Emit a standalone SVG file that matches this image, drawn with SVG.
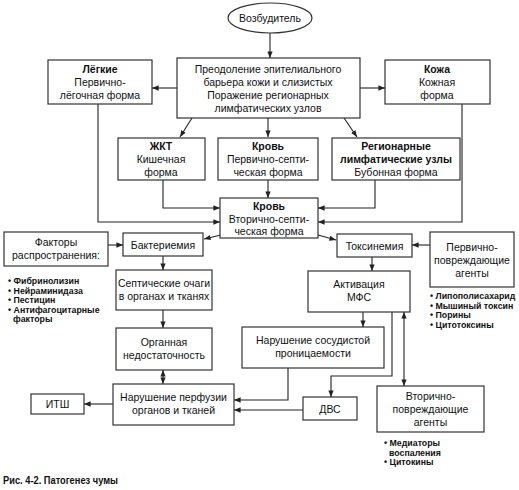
<svg xmlns="http://www.w3.org/2000/svg" width="519" height="490" viewBox="0 0 519 490">
<style>
.bx{fill:#fff;stroke:#333;stroke-width:1.2}
.t{font-family:"Liberation Sans",Arial,sans-serif;font-size:10.5px;text-anchor:middle;fill:#111}
.b{font-weight:bold}
.li{font-family:"Liberation Sans",Arial,sans-serif;font-size:8.8px;font-weight:bold;fill:#111}
.ln{fill:none;stroke:#222;stroke-width:1.1}
.cap{font-family:"Liberation Sans",Arial,sans-serif;font-size:10px;font-weight:900;fill:#111}
</style>
<defs>
<marker id="ah" viewBox="0 0 10 10" refX="10" refY="5" markerWidth="6" markerHeight="6" orient="auto-start-reverse"><path d="M0,1 L10,5 L0,9 z" fill="#222"/></marker>
</defs>
<rect width="519" height="490" fill="#fff"/>
<g id="connectors">
<line class="ln" x1="270" y1="33" x2="270" y2="58" marker-end="url(#ah)"/>
<line class="ln" x1="177" y1="88" x2="152" y2="88" marker-end="url(#ah)"/>
<line class="ln" x1="360" y1="88" x2="385" y2="88" marker-end="url(#ah)"/>
<line class="ln" x1="192" y1="118" x2="180" y2="137" marker-end="url(#ah)"/>
<line class="ln" x1="268" y1="118" x2="268" y2="137" marker-end="url(#ah)"/>
<line class="ln" x1="344" y1="118" x2="357" y2="137" marker-end="url(#ah)"/>
<line class="ln" x1="268" y1="180" x2="268" y2="198" marker-end="url(#ah)"/>
<polyline class="ln" points="163,180 163,208 220,208" marker-end="url(#ah)"/>
<polyline class="ln" points="98,104 98,222 220,222" marker-end="url(#ah)"/>
<polyline class="ln" points="375,180 375,208 318,208" marker-end="url(#ah)"/>
<polyline class="ln" points="462,104 462,222 318,222" marker-end="url(#ah)"/>
<line class="ln" x1="221" y1="235" x2="204" y2="239" marker-end="url(#ah)"/>
<line class="ln" x1="318" y1="235" x2="336" y2="240" marker-end="url(#ah)"/>
<line class="ln" x1="108" y1="245" x2="123" y2="245" marker-end="url(#ah)"/>
<line class="ln" x1="430" y1="245" x2="412" y2="245" marker-end="url(#ah)"/>
<line class="ln" x1="163" y1="256" x2="163" y2="270" marker-end="url(#ah)"/>
<line class="ln" x1="163" y1="310" x2="163" y2="328" marker-end="url(#ah)"/>
<line class="ln" x1="372" y1="257" x2="372" y2="271" marker-end="url(#ah)"/>
<line class="ln" x1="363" y1="312" x2="363" y2="327" marker-end="url(#ah)"/>
<polyline class="ln" points="392,312 392,376 331,376 331,397" marker-end="url(#ah)"/>
<line class="ln" x1="404" y1="312" x2="404" y2="386" marker-start="url(#ah)" marker-end="url(#ah)"/>
<line class="ln" x1="163" y1="370" x2="163" y2="384" marker-start="url(#ah)" marker-end="url(#ah)"/>
<polyline class="ln" points="288,368 288,400 234,400" marker-end="url(#ah)"/>
<line class="ln" x1="303" y1="410" x2="234" y2="410" marker-end="url(#ah)"/>
<line class="ln" x1="113" y1="404" x2="84" y2="404" marker-end="url(#ah)"/>
</g>
<g id="n-vozb"><ellipse class="bx" cx="270" cy="18" rx="42" ry="15"/><text class="t" x="270" y="22">Возбудитель</text></g>
<g id="n-preod"><rect class="bx" x="177" y="58" width="183" height="60"/>
<text class="t" x="268" y="72.5">Преодоление эпителиального</text>
<text class="t" x="268" y="85.5">барьера кожи и слизистых</text>
<text class="t" x="268" y="98.5">Поражение регионарных</text>
<text class="t" x="268" y="111.5">лимфатических узлов</text></g>
<g id="n-legkie"><rect class="bx" x="48" y="60" width="104" height="44"/>
<text class="t b" x="100" y="73">Лёгкие</text><text class="t" x="100" y="86">Первично-</text><text class="t" x="100" y="99">лёгочная форма</text></g>
<g id="n-kozha"><rect class="bx" x="385" y="60" width="105" height="44"/>
<text class="t b" x="437" y="73">Кожа</text><text class="t" x="437" y="86">Кожная</text><text class="t" x="437" y="99">форма</text></g>
<g id="n-zhkt"><rect class="bx" x="118" y="138" width="87" height="42"/>
<text class="t b" x="161" y="150">ЖКТ</text><text class="t" x="161" y="163">Кишечная</text><text class="t" x="161" y="176">форма</text></g>
<g id="n-krov1"><rect class="bx" x="218" y="138" width="100" height="42"/>
<text class="t b" x="268" y="150">Кровь</text><text class="t" x="268" y="163">Первично-септи-</text><text class="t" x="268" y="176">ческая форма</text></g>
<g id="n-region"><rect class="bx" x="332" y="138" width="128" height="42"/>
<text class="t b" x="396" y="150">Регионарные</text><text class="t b" x="396" y="163">лимфатические узлы</text><text class="t" x="396" y="176">Бубонная форма</text></g>
<g id="n-krov2"><rect class="bx" x="220" y="198" width="98" height="40"/>
<text class="t b" x="269" y="210">Кровь</text><text class="t" x="269" y="222.5">Вторично-септи-</text><text class="t" x="269" y="235">ческая форма</text></g>
<g id="n-faktory"><rect class="bx" x="4" y="232" width="104" height="34"/>
<text class="t" x="56" y="246">Факторы</text><text class="t" x="56" y="259">распространения:</text>
<text class="li" x="8" y="284">• Фибринолизин</text>
<text class="li" x="8" y="293.5">• Нейраминидаза</text>
<text class="li" x="8" y="303">• Пестицин</text>
<text class="li" x="8" y="312.5">• Антифагоцитарные</text>
<text class="li" x="13" y="322">факторы</text></g>
<g id="n-bakt"><rect class="bx" x="123" y="233" width="80" height="23"/><text class="t" x="163" y="248.5">Бактериемия</text></g>
<g id="n-toks"><rect class="bx" x="337" y="234" width="75" height="23"/><text class="t" x="374.5" y="249.5">Токсинемия</text></g>
<g id="n-perv"><rect class="bx" x="430" y="232" width="84" height="55"/>
<text class="t" x="472" y="250.5">Первично-</text><text class="t" x="472" y="263.5">повреждающие</text><text class="t" x="472" y="276.5">агенты</text>
<text class="li" x="430" y="299">• Липополисахарид</text>
<text class="li" x="430" y="308.5">• Мышиный токсин</text>
<text class="li" x="430" y="318">• Порины</text>
<text class="li" x="430" y="327.5">• Цитотоксины</text></g>
<g id="n-sept"><rect class="bx" x="116" y="270" width="96" height="40"/>
<text class="t" x="164" y="287">Септические очаги</text><text class="t" x="164" y="300">в органах и тканях</text></g>
<g id="n-mfs"><rect class="bx" x="308" y="271" width="102" height="41"/>
<text class="t" x="359" y="288">Активация</text><text class="t" x="359" y="301">МФС</text></g>
<g id="n-organ"><rect class="bx" x="116" y="328" width="96" height="42"/>
<text class="t" x="164" y="346">Органная</text><text class="t" x="164" y="359">недостаточность</text></g>
<g id="n-sosud"><rect class="bx" x="242" y="327" width="142" height="41"/>
<text class="t" x="313" y="344">Нарушение сосудистой</text><text class="t" x="313" y="357">проницаемости</text></g>
<g id="n-perf"><rect class="bx" x="113" y="384" width="121" height="41"/>
<text class="t" x="173.5" y="401">Нарушение перфузии</text><text class="t" x="173.5" y="414">органов и тканей</text></g>
<g id="n-itsh"><rect class="bx" x="31" y="394" width="53" height="20"/><text class="t" x="57.5" y="408">ИТШ</text></g>
<g id="n-dvs"><rect class="bx" x="303" y="397" width="54" height="23"/><text class="t" x="330" y="412.5">ДВС</text></g>
<g id="n-vtor"><rect class="bx" x="377" y="386" width="107" height="46"/>
<text class="t" x="430.5" y="400">Вторично-</text><text class="t" x="430.5" y="413">повреждающие</text><text class="t" x="430.5" y="426">агенты</text>
<text class="li" x="384" y="446">• Медиаторы</text>
<text class="li" x="389" y="455.5">воспаления</text>
<text class="li" x="384" y="465">• Цитокины</text></g>
<text class="cap" x="3" y="484" textLength="115" lengthAdjust="spacingAndGlyphs">Рис. 4-2. Патогенез чумы</text>
</svg>
